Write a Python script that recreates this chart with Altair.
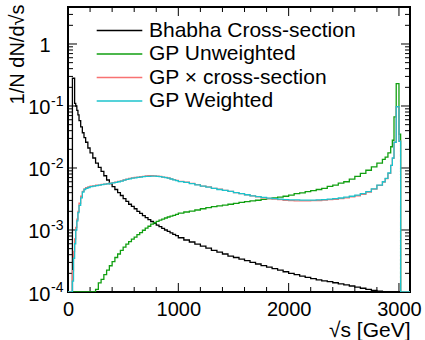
import altair as alt
import pandas as pd

# ---------------- data ----------------
# left edges of histogram bins (GeV); x_end closes the final bin
edges_low = [0, 20, 40, 50, 60, 70, 80, 90, 100, 115, 130, 145, 160, 180, 200, 225, 250, 275]
edges_mid25 = list(range(300, 1000, 25))
edges_mid50 = list(range(1000, 2851, 50))
edges_high = [2875, 2900, 2925, 2940, 2955, 2975, 3000, 3015]
x_end = 3100
edges = edges_low + edges_mid25 + edges_mid50 + edges_high

bhabha = [1e-6, 1e-6, 0.28, 0.28, 0.11, 0.10, 0.085, 0.072, 0.058, 0.046,
          0.037, 0.031, 0.026, 0.021, 0.0175, 0.0145, 0.012, 0.0102,
          # 300 - 975 (25 GeV bins)
          0.0088, 0.0075, 0.0064, 0.0056, 0.005, 0.0045, 0.0040, 0.0036, 0.0032, 0.0029,
          0.0026, 0.0024, 0.0022, 0.002, 0.00185, 0.0017, 0.00158, 0.00147, 0.00137, 0.00128,
          0.0012, 0.00113, 0.00106, 0.001, 0.00095, 0.0009, 0.00085, 0.00081,
          # 1000 - 2850 (50 GeV bins)
          0.00075, 0.00069, 0.00064, 0.00059, 0.00055, 0.00051, 0.00047, 0.00044, 0.00041, 0.00038,
          0.00036, 0.00034, 0.00032, 0.0003, 0.000283, 0.000267, 0.000252, 0.000238, 0.000225, 0.000212,
          0.0002, 0.00019, 0.00018, 0.000172, 0.000164, 0.000157, 0.000151, 0.000147, 0.000141, 0.000135,
          0.00013, 0.000125, 0.00012, 0.000115, 0.00011, 0.000106, 0.000103,
          # 2850 - 3100
          0.0001, 0.000098, 0.000096, 0.000095, 0.000094, 0.000093, 0.000092, 1e-6, 1e-6]

gp_unweighted = [1e-6, 1e-6, 5e-5, 5e-5, 5e-5, 5e-5, 5e-5, 5e-5, 5e-5, 5e-5,
                 5e-5, 5e-5, 5e-5, 5e-5, 5e-5, 5e-5, 1.1e-4, 1.4e-4,
                 1.6e-4, 1.9e-4, 2.25e-4, 2.65e-4, 3.1e-4, 3.6e-4, 4.1e-4, 4.7e-4, 5.3e-4, 5.9e-4,
                 6.5e-4, 7.1e-4, 7.7e-4, 8.4e-4, 9.1e-4, 9.9e-4, 1.07e-3, 1.15e-3, 1.24e-3, 1.31e-3,
                 1.38e-3, 1.44e-3, 1.5e-3, 1.56e-3, 1.62e-3, 1.67e-3, 1.72e-3, 1.78e-3,
                 1.87e-3, 1.95e-3, 2.02e-3, 2.1e-3, 2.2e-3, 2.3e-3, 2.38e-3, 2.45e-3, 2.52e-3, 2.6e-3,
                 2.68e-3, 2.78e-3, 2.86e-3, 2.95e-3, 3.02e-3, 3.12e-3, 3.2e-3, 3.3e-3, 3.38e-3, 3.5e-3,
                 3.65e-3, 3.85e-3, 3.98e-3, 4.15e-3, 4.3e-3, 4.5e-3, 4.7e-3, 5.05e-3, 5.3e-3, 5.7e-3,
                 6.0e-3, 6.6e-3, 7.3e-3, 8.2e-3, 9.2e-3, 1.04e-2, 1.2e-2,
                 1.38e-2, 1.5e-2, 1.75e-2, 0.022, 0.028, 0.067, 0.23, 0.035, 1e-6]

gp_xsec = [1e-6, 1e-6, 2.2e-4, 4.5e-4, 7.2e-4, 1.1e-3, 1.5e-3, 2.0e-3, 2.7e-3, 3.5e-3,
           4.2e-3, 4.6e-3, 4.8e-3, 4.95e-3, 5.1e-3, 5.15e-3, 5.3e-3, 5.3e-3,
           5.45e-3, 5.5e-3, 5.6e-3, 5.7e-3, 5.8e-3, 5.9e-3, 6.1e-3, 6.2e-3, 6.4e-3, 6.6e-3,
           6.8e-3, 6.95e-3, 7.05e-3, 7.15e-3, 7.25e-3, 7.35e-3, 7.45e-3, 7.5e-3, 7.5e-3, 7.45e-3,
           7.4e-3, 7.3e-3, 7.15e-3, 7.05e-3, 6.9e-3, 6.7e-3, 6.5e-3, 6.3e-3,
           6.1e-3, 5.9e-3, 5.65e-3, 5.4e-3, 5.1e-3, 4.95e-3, 4.7e-3, 4.55e-3, 4.35e-3, 4.2e-3,
           4.0e-3, 3.85e-3, 3.7e-3, 3.55e-3, 3.42e-3, 3.3e-3, 3.22e-3, 3.15e-3, 3.08e-3, 3.02e-3,
           2.98e-3, 2.96e-3, 2.95e-3, 2.96e-3, 2.97e-3, 2.99e-3, 3.03e-3, 3.08e-3, 3.13e-3, 3.2e-3,
           3.3e-3, 3.42e-3, 3.57e-3, 3.77e-3, 4.08e-3, 4.55e-3, 5.25e-3,
           5.95e-3, 6.75e-3, 8.2e-3, 0.011, 0.0143, 0.026, 0.097, 0.027, 1e-6]

gp_weighted = [1e-6, 1e-6, 1.5e-4, 3.5e-4, 6e-4, 1.0e-3, 1.4e-3, 1.9e-3, 2.5e-3, 3.3e-3,
               4.1e-3, 4.5e-3, 4.7e-3, 4.85e-3, 5.0e-3, 5.1e-3, 5.2e-3, 5.3e-3,
               5.4e-3, 5.5e-3, 5.55e-3, 5.65e-3, 5.75e-3, 5.85e-3, 6.0e-3, 6.15e-3, 6.35e-3, 6.55e-3,
               6.7e-3, 6.85e-3, 6.95e-3, 7.05e-3, 7.15e-3, 7.25e-3, 7.3e-3, 7.35e-3, 7.4e-3, 7.4e-3,
               7.35e-3, 7.25e-3, 7.15e-3, 7.0e-3, 6.85e-3, 6.65e-3, 6.45e-3, 6.25e-3,
               6.05e-3, 5.85e-3, 5.6e-3, 5.35e-3, 5.1e-3, 4.9e-3, 4.7e-3, 4.5e-3, 4.35e-3, 4.2e-3,
               4.0e-3, 3.85e-3, 3.7e-3, 3.55e-3, 3.45e-3, 3.35e-3, 3.27e-3, 3.2e-3, 3.15e-3, 3.1e-3,
               3.07e-3, 3.05e-3, 3.03e-3, 3.03e-3, 3.04e-3, 3.06e-3, 3.1e-3, 3.15e-3, 3.2e-3, 3.28e-3,
               3.38e-3, 3.5e-3, 3.65e-3, 3.85e-3, 4.15e-3, 4.6e-3, 5.3e-3,
               6.0e-3, 6.8e-3, 8.3e-3, 0.011, 0.0145, 0.026, 0.098, 0.027, 1e-6]

series_names = ["Bhabha Cross-section", "GP Unweighted", "GP \u00d7 cross-section", "GP Weighted"]
series_values = [bhabha, gp_unweighted, gp_xsec, gp_weighted]
series_colors = ["#000000", "#119f11", "#f87272", "#1cc3cc"]

x_ticks = [0, 1000, 2000, 3000]
x_minor = [200, 400, 600, 800, 1200, 1400, 1600, 1800, 2200, 2400, 2600, 2800]
y_ticks = [1e-4, 1e-3, 1e-2, 1e-1, 1]
y_tick_base = ["10", "10", "10", "10", "1"]
y_tick_exp = ["-4", "-3", "-2", "-1", ""]
y_minor = [m * d for d in [1e-4, 1e-3, 1e-2, 1e-1, 1] for m in range(2, 10) if m * d < 3.9]

x_domain = [0, 3100]
y_domain = [1e-4, 3.95]

# ---------------- build tables ----------------
rows = []
for name, vals in zip(series_names, series_values):
    assert len(vals) == len(edges), (name, len(vals), len(edges))
    for e, v in zip(edges, vals):
        rows.append({"x": e, "y": v, "series": name})
    rows.append({"x": x_end, "y": vals[-1], "series": name})
df = pd.DataFrame(rows)

W, H = 342, 285
FONT = "Liberation Sans"

label_expr = "datum.value >= 0.5 ? '%s' : '%s'" % (y_tick_base[-1], y_tick_base[0])

xenc = alt.X("x:Q", scale=alt.Scale(domain=x_domain, nice=False, zero=False),
             axis=alt.Axis(values=x_ticks, format="d", ticks=False, domain=False, grid=False,
                           labelFontSize=20, labelFont=FONT, labelColor="black",
                           labelPadding=7, labelFlush=False,
                           title="\u221as [GeV]", titleFont=FONT, titleFontSize=21,
                           titleFontWeight="normal", titleColor="black",
                           titleAnchor="end", titleAlign="right", titleX=W, titleY=44,
                           titleBaseline="alphabetic"))
yenc = alt.Y("y:Q", scale=alt.Scale(type="log", domain=y_domain, nice=False, clamp=True),
             axis=alt.Axis(values=y_ticks, labelExpr=label_expr, ticks=False, domain=False,
                           grid=False, labelFontSize=20, labelFont=FONT, labelColor="black",
                           labelPadding=18, labelOffset=2,
                           title="1/N dN/d\u221as", titleFont=FONT, titleFontSize=20,
                           titleFontWeight="normal", titleColor="black",
                           titleAngle=270, titleAlign="right", titleBaseline="top",
                           titleX=-61, titleY=-3))

color_scale = alt.Scale(domain=series_names, range=series_colors)
legend = alt.Legend(orient="none", legendX=41, legendY=13, title=None,
                    symbolType="M-4,0H4", symbolSize=130, symbolStrokeWidth=1.5,
                    labelFontSize=21, labelFont=FONT, labelColor="black", labelLimit=0,
                    labelOffset=19, rowPadding=1.5, padding=0)

layers = []
for name in series_names:
    layers.append(
        alt.Chart(df).transform_filter(alt.datum.series == name)
        .mark_line(interpolate="step-after", clip=True, strokeWidth=1.3)
        .encode(x=xenc, y=yenc,
                color=alt.Color("series:N", scale=color_scale, legend=legend))
    )

# superscript exponents of the y tick labels
sup_df = pd.DataFrame({"y": y_ticks, "sup": y_tick_exp})
sup = alt.Chart(sup_df).mark_text(align="left", baseline="middle", fontSize=14, font=FONT,
                                  color="black", dy=-4).encode(
    y=yenc, x=alt.value(-17), text="sup:N")

# inward ROOT-style tick marks on all four sides
xt = pd.DataFrame({"x": x_ticks})
xm = pd.DataFrame({"x": x_minor})
yt = pd.DataFrame({"y": y_ticks})
ym = pd.DataFrame({"y": y_minor})
tick_style = dict(color="black", strokeWidth=1)
MAJ, MIN = 9, 5
ticks = [
    alt.Chart(xt).mark_rule(**tick_style).encode(x=xenc, y=alt.value(H), y2=alt.value(H - MAJ)),
    alt.Chart(xt).mark_rule(**tick_style).encode(x=xenc, y=alt.value(0), y2=alt.value(MAJ)),
    alt.Chart(xm).mark_rule(**tick_style).encode(x=xenc, y=alt.value(H), y2=alt.value(H - MIN)),
    alt.Chart(xm).mark_rule(**tick_style).encode(x=xenc, y=alt.value(0), y2=alt.value(MIN)),
    alt.Chart(yt).mark_rule(**tick_style).encode(y=yenc, x=alt.value(0), x2=alt.value(MAJ)),
    alt.Chart(yt).mark_rule(**tick_style).encode(y=yenc, x=alt.value(W), x2=alt.value(W - MAJ)),
    alt.Chart(ym).mark_rule(**tick_style).encode(y=yenc, x=alt.value(0), x2=alt.value(MIN)),
    alt.Chart(ym).mark_rule(**tick_style).encode(y=yenc, x=alt.value(W), x2=alt.value(W - MIN)),
]

chart = alt.layer(*ticks, *layers, sup).properties(
    width=W, height=H,
    padding={"left": 68, "top": 7, "right": 15, "bottom": 48},
    autosize=alt.AutoSizeParams(type="none"),
    background="white",
).configure_view(stroke="black", strokeWidth=2)

chart.save("out.html", embed_options={"renderer": "svg", "actions": False})
